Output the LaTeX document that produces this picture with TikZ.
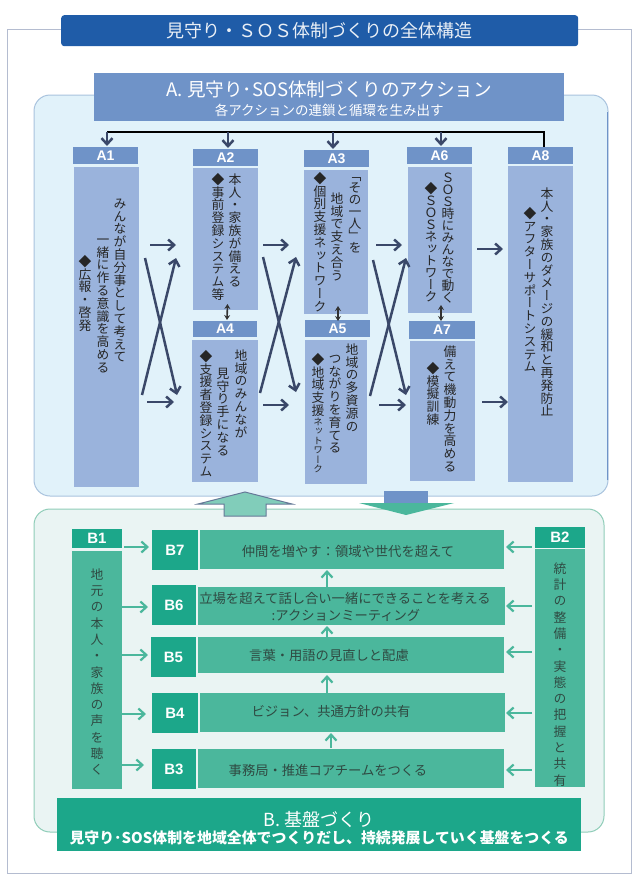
\documentclass[tikz,border=0pt]{standalone}
\usepackage{fontspec}
\usepackage{tikz}
\usetikzlibrary{arrows,arrows.meta}
\setmainfont{Noto Sans CJK JP}
\newfontfamily\vjp[RawFeature=+vert]{Noto Sans CJK JP}
\newfontfamily\lblfont{Liberation Sans}
\newlength{\vpitch}
\def\vstep#1{\ifx#1\relax\else\hbox to 14pt{\hss\vrule height .86\vpitch depth .14\vpitch width 0pt\smash{#1}\hss}\expandafter\vstep\fi}
\newcommand{\vtext}[2][]{\vbox{\offinterlineskip\vstep#2\relax\fontsize{9.5}{11}\selectfont\vpitch 9.5pt\vstep#1\relax}}
\definecolor{titleblue}{HTML}{1F5CA8}
\definecolor{ahead}{HTML}{6F93C8}
\definecolor{abox}{HTML}{9AB3DC}
\definecolor{apanel}{HTML}{E1F2FA}
\definecolor{aedge}{HTML}{A9C3DE}
\definecolor{frameline}{HTML}{B4BCD0}
\definecolor{navy}{HTML}{3A4869}
\definecolor{bpanel}{HTML}{EAF4F3}
\definecolor{bedge}{HTML}{8FCDB8}
\definecolor{bdeep}{HTML}{1CA78A}
\definecolor{bsoft}{HTML}{4BB79C}
\definecolor{btext}{HTML}{2F4A42}
\tikzstyle{panel}=[rounded corners=16pt,line width=1pt]
\tikzstyle{head}=[anchor=north west,fill=ahead,text=white,inner sep=0pt,outer sep=0pt,
                font=\lblfont\bfseries\fontsize{14}{16}\selectfont]
\tikzstyle{abody}=[anchor=north west,fill=abox,inner sep=0pt,outer sep=0pt]
\tikzstyle{tag}=[anchor=north west,fill=bdeep,text=white,inner sep=0pt,outer sep=0pt,
                font=\lblfont\bfseries\fontsize{15}{17}\selectfont]
\tikzstyle{btxt}=[text=btext,inner sep=0pt,font=\fontsize{13.3}{17}\selectfont]
\tikzstyle{vline}=[anchor=north,inner sep=0pt,text=black!85,
                font=\vjp\fontsize{12.8}{15}\selectfont\vpitch 12.8pt]
\tikzstyle{vtight}=[vline,font=\vjp\fontsize{12.8}{15}\selectfont\vpitch 12pt]
\tikzstyle{vwide}=[anchor=north,inner sep=0pt,text=btext,
                font=\vjp\fontsize{12.8}{15}\selectfont\vpitch 16.3pt]
\tikzstyle{flow}=[navy,line width=2.5pt,->,>={Straight Barb[length=6pt,width=11pt]}]
\tikzstyle{bus}=[black,line width=1.8pt]
\tikzstyle{twin}=[black!80,line width=1.6pt,<->,>={Stealth[length=5pt,width=6pt]}]
\tikzstyle{bflow}=[bsoft,line width=2.2pt,->,>={Straight Barb[length=6pt,width=11pt]}]
\begin{document}
\begin{tikzpicture}[x=1pt,y=-1pt]
\useasboundingbox (0,0) rectangle (640,884);
\fill[white] (0,0) rectangle (640,884);
\draw[frameline,line width=0.7pt] (7.5,29) rectangle (631,873);
\draw[panel,draw=aedge,fill=apanel] (34,95) rectangle (608,496);
\draw[ahead,line width=1.5pt] (607.5,112) -- (607.5,480);
\draw[panel,draw=bedge,fill=bpanel] (34,509) rectangle (604,832);
\node[anchor=north west,fill=titleblue,rounded corners=3pt,text=white!90!titleblue,inner sep=0pt,
  minimum width=517,minimum height=31,font=\fontsize{18}{20}\selectfont] (title) at (61,15) {見守り・ＳＯＳ体制づくりの全体構造};
\node[anchor=north west,fill=ahead,text=white,inner sep=0pt,minimum width=470,minimum height=48,
  align=center,font=\fontsize{18.6}{21}\selectfont] (ahdr) at (94,73)
  {\rule{0pt}{19pt}A. 見守り･SOS体制づくりのアクション\\[-1.5pt]{\fontsize{13.5}{15}\selectfont 各アクションの連鎖と循環を生み出す}};
\node[head,minimum width=65,minimum height=17] (a1head) at (73,147) {A1};
\node[head,minimum width=65,minimum height=17] (a2head) at (193,149) {A2};
\node[head,minimum width=65,minimum height=17] (a3head) at (304,150) {A3};
\node[head,minimum width=65,minimum height=17] (a6head) at (407,147) {A6};
\node[head,minimum width=65,minimum height=17] (a8head) at (508,147) {A8};
\node[head,minimum width=64,minimum height=16] (a4head) at (193,321) {A4};
\node[head,minimum width=65,minimum height=17] (a5head) at (305,320) {A5};
\node[head,minimum width=66,minimum height=18] (a7head) at (409,321) {A7};
\node[abody,minimum width=65,minimum height=320] (a1body) at (74,167) {};
\node[abody,minimum width=65,minimum height=142] (a2body) at (193,168) {};
\node[abody,minimum width=64,minimum height=144] (a3body) at (304,170) {};
\node[abody,minimum width=66,minimum height=142] (a4body) at (192,340) {};
\node[abody,minimum width=62,minimum height=144] (a5body) at (305,340) {};
\node[abody,minimum width=64,minimum height=146] (a6body) at (408,167) {};
\node[abody,minimum width=65,minimum height=140] (a7body) at (410,341) {};
\node[abody,minimum width=65,minimum height=316] (a8body) at (508,166) {};
\node[vline] (a1l1) at (120,197) {\vtext{みんなが自分事として考えて}};
\node[vline] (a1l2) at (103,233) {\vtext{一緒に作る意識を高める}};
\node[vline] (a1l3) at (85,255) {\vtext{◆広報・啓発}};
\node[vline] (a2l1) at (235,173) {\vtext{本人・家族が備える}};
\node[vline] (a2l2) at (218,173) {\vtext{◆事前登録システム等}};
\node[vtight] (a3l1) at (355,170) {\vtext{「その一人」を}};
\node[vline] (a3l2) at (337,192) {\vtext{地域で支え合う}};
\node[vline] (a3l3) at (320,172) {\vtext{◆個別支援ネットワーク}};
\node[vline] (a4l1) at (241,349) {\vtext{地域のみんなが}};
\node[vline] (a4l2) at (223,367) {\vtext{見守り手になる}};
\node[vline] (a4l3) at (206,350) {\vtext{◆支援者登録システム}};
\node[vline] (a5l1) at (352,343) {\vtext{地域の多資源の}};
\node[vline] (a5l2) at (335,352) {\vtext{つながりを育てる}};
\node[vline] (a5l3) at (318,353) {\vtext[ネットワーク]{◆地域支援}};
\node[vtight] (a6l1) at (448,172) {\vtext{ＳＯＳ時にみんなで動く}};
\node[vtight] (a6l2) at (431,183) {\vtext{◆ＳＯＳネットワーク}};
\node[vline] (a7l1) at (450,345) {\vtext{備えて機動力を高める}};
\node[vline] (a7l2) at (433,362) {\vtext{◆模擬訓練}};
\node[vline] (a8l1) at (547,187) {\vtext{本人・家族のダメージの緩和と再発防止}};
\node[vline] (a8l2) at (530,207) {\vtext{◆アフターサポートシステム}};
\draw[bus] ([shift={(1.5,-15)}]a1head.north) -- ([shift={(3.5,-15)}]a8head.north) -- ([shift={(3.5,0)}]a8head.north);
\draw[flow] ([shift={(1.5,-15)}]a1head.north) -- ([shift={(1.5,-1)}]a1head.north);
\draw[flow] ([shift={(2.5,-17)}]a2head.north) -- ([shift={(2.5,-1)}]a2head.north);
\draw[flow] ([shift={(-3.5,-18)}]a3head.north) -- ([shift={(-3.5,-1)}]a3head.north);
\draw[flow] ([shift={(1.5,-15)}]a6head.north) -- ([shift={(1.5,-1)}]a6head.north);
\draw[flow] ([shift={(11,-82)}]a1body.east) -- ([shift={(-17,6)}]a2body.west);
\draw[flow] ([shift={(8,75)}]a1body.east) -- ([shift={(-18,-9)}]a4body.west);
\draw[flow] ([shift={(3,68)}]a1body.east) -- ([shift={(-17,19)}]a2body.west);
\draw[flow] ([shift={(6,-69)}]a1body.east) -- ([shift={(-15,-16)}]a4body.west);
\draw[flow] ([shift={(5,6)}]a2body.east) -- ([shift={(-15,3)}]a3body.west);
\draw[flow] ([shift={(5,-6)}]a4body.east) -- ([shift={(-16,-7)}]a5body.west);
\draw[flow] ([shift={(2,-18)}]a4body.east) -- ([shift={(-8,15)}]a3body.west);
\draw[flow] ([shift={(5,18)}]a2body.east) -- ([shift={(-9,-20)}]a5body.west);
\draw[flow] ([shift={(8,3)}]a3body.east) -- ([shift={(-6,5)}]a6body.west);
\draw[flow] ([shift={(12,-7)}]a5body.east) -- ([shift={(-4,-6)}]a7body.west);
\draw[flow] ([shift={(3,-16)}]a5body.east) -- ([shift={(-2,18)}]a6body.west);
\draw[flow] ([shift={(5,18)}]a3body.east) -- ([shift={(-4,-16)}]a7body.west);
\draw[flow] ([shift={(5,9)}]a6body.east) -- ([shift={(-5,-75)}]a8body.west);
\draw[flow] ([shift={(7,-9)}]a7body.east) -- ([shift={(0,78)}]a8body.west);
\draw[twin] ([shift={(2,-6)}]a2body.south) -- ([shift={(2,-1)}]a4head.north);
\draw[twin] ([shift={(2,-8)}]a3body.south) -- ([shift={(0.5,1)}]a5head.north);
\draw[twin] ([shift={(1,-8)}]a6body.south) -- ([shift={(-1,0)}]a7head.north);
\draw[draw=aedge!40!navy,fill=bsoft!70!white,line width=1pt] (224,516) -- (224,504) -- (198,504) -- (245,492) -- (292,504) -- (266,504) -- (266,516) -- cycle;
\fill[bsoft] (359,503) -- (454,503) -- (406,515) -- cycle;
\fill[ahead] (384,491) rectangle (428,503);
\node[tag,minimum width=50,minimum height=19] (b1head) at (72,529) {B1};
\node[tag,minimum width=50,minimum height=21] (b2head) at (535,527) {B2};
\node[abody,fill=bsoft,minimum width=50,minimum height=238] (b1body) at (72,551) {};
\node[abody,fill=bsoft,minimum width=50,minimum height=238] (b2body) at (535,549) {};
\node[vwide] (b1text) at (97,565) {\vtext{地元の本人・家族の声を聴く}};
\node[vwide] (b2text) at (560,559) {\vtext{統計の整備・実態の把握と共有}};
\node[tag,minimum width=46,minimum height=40] (b7tag) at (152,530) {B7};
\node[tag,minimum width=44,minimum height=40] (b6tag) at (152,585) {B6};
\node[tag,minimum width=45,minimum height=40] (b5tag) at (151,637) {B5};
\node[tag,minimum width=46,minimum height=40] (b4tag) at (152,693) {B4};
\node[tag,minimum width=44,minimum height=40] (b3tag) at (152,749) {B3};
\node[abody,fill=bsoft,minimum width=304,minimum height=39] (b7box) at (200,530) {};
\node[abody,fill=bsoft,minimum width=307,minimum height=38] (b6box) at (198,587) {};
\node[abody,fill=bsoft,minimum width=306,minimum height=36] (b5box) at (198,637) {};
\node[abody,fill=bsoft,minimum width=305,minimum height=39] (b4box) at (200,693) {};
\node[abody,fill=bsoft,minimum width=306,minimum height=39] (b3box) at (198,749) {};
\node[btxt] (b7text) at (348,551) {仲間を増やす：領域や世代を超えて};
\node[btxt] (b6text) at (345,598) {立場を超えて話し合い一緒にできることを考える};
\node[btxt] (b6sub) at (346,615) {:アクションミーティング};
\node[btxt] (b5text) at (329,655) {言葉・用語の見直しと配慮};
\node[btxt] (b4text) at (331,711) {ビジョン、共通方針の共有};
\node[btxt] (b3text) at (328,770) {事務局・推進コアチームをつくる};
\draw[bflow] ([shift={(2,-123)}]b1body.east) -- ([shift={(-3,-3)}]b7tag.west);
\draw[bflow] ([shift={(0,-63)}]b1body.east) -- ([shift={(-4,2)}]b6tag.west);
\draw[bflow] ([shift={(0,-15)}]b1body.east) -- ([shift={(-3,-2)}]b5tag.west);
\draw[bflow] ([shift={(0,44)}]b1body.east) -- ([shift={(-6,1)}]b4tag.west);
\draw[bflow] ([shift={(0,95)}]b1body.east) -- ([shift={(-8,-4)}]b3tag.west);
\draw[bflow] ([shift={(-3,-121)}]b2body.west) -- ([shift={(2,-2.5)}]b7box.east);
\draw[bflow] ([shift={(-3,-62)}]b2body.west) -- ([shift={(1,0)}]b6box.east);
\draw[bflow] ([shift={(-3,-16)}]b2body.west) -- ([shift={(2,-3)}]b5box.east);
\draw[bflow] ([shift={(-3,45)}]b2body.west) -- ([shift={(1,0.5)}]b4box.east);
\draw[bflow] ([shift={(-3,102)}]b2body.west) -- ([shift={(2,1.5)}]b3box.east);
\draw[bflow] ([shift={(-20,-1)}]b3box.north) -- ([shift={(-21.5,1)}]b4box.south);
\draw[bflow] ([shift={(-25.5,0)}]b4box.north) -- ([shift={(-24,2)}]b5box.south);
\draw[bflow] ([shift={(-24,0)}]b5box.north) -- ([shift={(-24.5,1)}]b6box.south);
\draw[bflow] ([shift={(-24.5,0)}]b6box.north) -- ([shift={(-25,1)}]b7box.south);
\node[anchor=north west,fill=bdeep,text=white,inner sep=0pt,minimum width=524,minimum height=53,
  align=center,font=\fontsize{14.9}{18}\selectfont] (bfoot) at (57,798)
  {\rule{0pt}{23pt}{\fontsize{18}{21}\selectfont B. 基盤づくり}\\[-1pt]{\bfseries 見守り･SOS体制を地域全体でつくりだし、持続発展していく基盤をつくる}};
\end{tikzpicture}
\end{document}
